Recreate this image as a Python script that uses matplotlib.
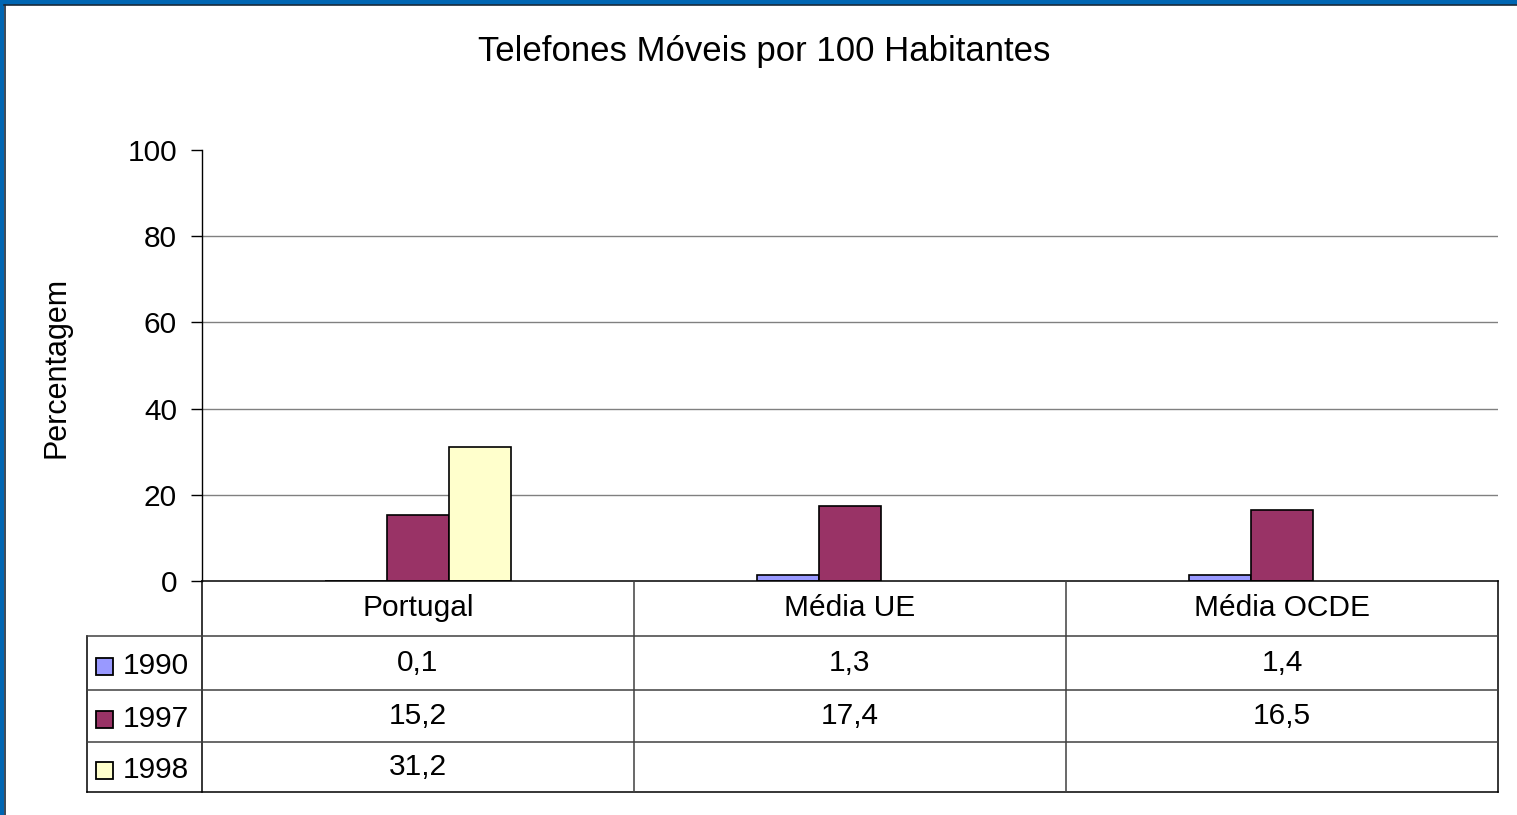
import matplotlib
matplotlib.use("Agg")
import matplotlib.pyplot as plt
from matplotlib.patches import Rectangle
from matplotlib.lines import Line2D

plt.rcParams['font.family'] = ['Liberation Sans', 'DejaVu Sans']

# data
categorias = ['Portugal', 'Média UE', 'Média OCDE']
anos = ['1990', '1997', '1998']
v1990 = [0.1, 1.3, 1.4]
v1997 = [15.2, 17.4, 16.5]
v1998 = [31.2, None, None]
cores = ['#9999FF', '#993366', '#FFFFCC']
series = [v1990, v1997, v1998]

W, H = 1517, 815
fig = plt.figure(figsize=(W / 100, H / 100), dpi=100)

# layout in pixels
left, right, top, zero = 202, 1498, 150, 581
rows = [581, 636, 690, 742, 792]
label_x0 = 87
fs = 21.5

ax = fig.add_axes([left / W, (H - zero) / H, (right - left) / W, (zero - top) / H])
bw = 62 / 432
for j, vals in enumerate(series):
    for i, v in enumerate(vals):
        if v is None:
            continue
        ax.bar(i + (j - 1) * bw, v, width=bw, color=cores[j],
               edgecolor='black', linewidth=1.2, zorder=3)
ax.set_xlim(-0.5, len(categorias) - 0.5)
ax.set_ylim(0, 100)
ax.set_yticks(range(0, 101, 20))
ax.set_xticks([])
ax.tick_params(axis='y', labelsize=fs, length=8, width=1, pad=10, direction='out')
for y in range(20, 100, 20):
    ax.axhline(y, color='#808080', linewidth=1, zorder=1)
for s in ['top', 'right', 'bottom']:
    ax.spines[s].set_visible(False)
ax.spines['left'].set_linewidth(1)
ax.patch.set_alpha(0)

# overlay in pixel coordinates for table and frame
ov = fig.add_axes([0, 0, 1, 1])
ov.set_xlim(0, W)
ov.set_ylim(H, 0)
ov.axis('off')
ov.patch.set_alpha(0)

def line(x0, y0, x1, y1, c='black', lw=1.1):
    ov.add_line(Line2D([x0, x1], [y0, y1], color=c, linewidth=lw))

colw = (right - left) / len(categorias)
# outer lines
line(left, zero, right, zero)
line(right, zero, right, rows[-1])
line(left, zero, left, rows[-1])
line(label_x0, rows[1], label_x0, rows[-1])
for r in rows[1:]:
    line(label_x0, r, right, r, c='#404040' if r != rows[-1] else 'black')
for i in range(1, len(categorias)):
    line(left + i * colw, zero, left + i * colw, rows[-1], c='#404040')

def fmt(v):
    return '' if v is None else f'{v:.1f}'.replace('.', ',')

for i, cat in enumerate(categorias):
    cx = left + (i + 0.5) * colw
    ov.text(cx, (rows[0] + rows[1]) / 2, cat, ha='center', va='center', fontsize=fs)
    for j, vals in enumerate(series):
        ov.text(cx, (rows[j + 1] + rows[j + 2]) / 2, fmt(vals[i]),
                ha='center', va='center', fontsize=fs)

for j, ano in enumerate(anos):
    cy = (rows[j + 1] + rows[j + 2]) / 2 + 3
    ov.add_patch(Rectangle((96, cy - 8), 17, 17, facecolor=cores[j],
                           edgecolor='black', linewidth=1.3))
    ov.text(123, cy, ano, ha='left', va='center', fontsize=fs)

# title and axis label
fig.text(764 / W, 1 - 52 / H, 'Telefones Móveis por 100 Habitantes',
         ha='center', va='center', fontsize=25)
fig.text(56 / W, 1 - 367 / H, 'Percentagem', rotation=90,
         ha='center', va='center', fontsize=22)

# blue frame (top and left)
ov.add_patch(Rectangle((0, 0), W, 4.5, facecolor='#0066B3', edgecolor='none'))
ov.add_patch(Rectangle((0, 0), 4.5, H, facecolor='#0066B3', edgecolor='none'))
line(4.5, 5, W, 5, c='#1a2a3a', lw=1.2)
line(5, 5, 5, H, c='#1a2a3a', lw=1.2)

fig.savefig('out.png', dpi=100, facecolor='white')
